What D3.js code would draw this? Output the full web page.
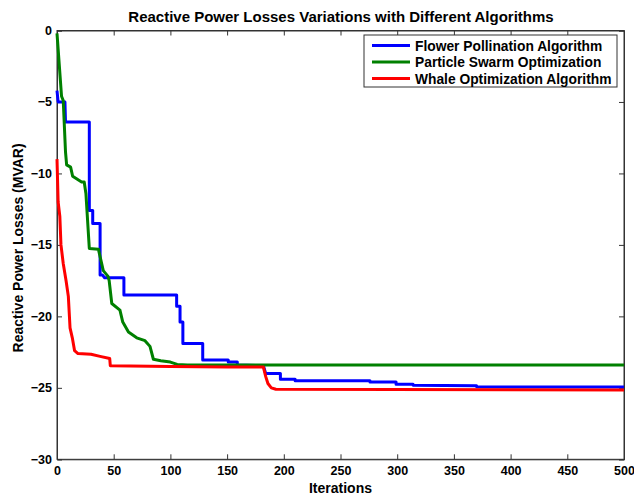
<!DOCTYPE html>
<html><head><meta charset="utf-8">
<script src="https://cdn.jsdelivr.net/npm/d3@7"></script>
<style>body{margin:0;background:#fff}text{font-family:Arial,"Liberation Sans",sans-serif;font-weight:bold}</style>
</head><body><svg id="c" width="634" height="495"></svg>
<script>
const title = "Reactive Power Losses Variations with Different Algorithms";
const xLabel = "Iterations";
const yLabel = "Reactive Power Losses (MVAR)";
const seriesNames = ["Flower Pollination Algorithm","Particle Swarm Optimization","Whale Optimization Algorithm"];
const seriesColors = ["#0000ff","#008000","#ff0000"];
const xTicks = [0,50,100,150,200,250,300,350,400,450,500];
const yTicks = [0,-5,-10,-15,-20,-25,-30];

const fpaIter = [0,1,7,7.5,28.5,28.5,31.5,31.5,38,38,40,42,59,59,105.5,105.5,108.5,108.5,111,111,128.5,128.5,151,151,159,159,182,184,197,197,210,210,276,276,299,299,314,314,370,370,500];
const fpaVal  = [-4.2,-5.0,-5.0,-6.4,-6.4,-12.6,-12.6,-13.5,-13.5,-17.1,-17.1,-17.3,-17.3,-18.5,-18.5,-19.3,-19.3,-20.4,-20.4,-21.9,-21.9,-23.06,-23.06,-23.2,-23.2,-23.4,-23.45,-24.0,-24.0,-24.4,-24.4,-24.5,-24.5,-24.6,-24.6,-24.75,-24.75,-24.82,-24.85,-24.93,-24.95];

const psoIter = [0,4,5.5,7.5,8.5,12,13.8,21.7,24,25.5,28.5,36.5,40.8,45,46,48.3,55.5,58,63,70.3,77.6,82,85,91.5,100,106,115,500];
const psoVal  = [-0.2,-4.6,-4.9,-8.5,-9.4,-9.56,-10.2,-10.6,-10.6,-11.4,-15.25,-15.3,-16.8,-17.2,-17.5,-19.1,-19.56,-20.4,-21.1,-21.5,-21.7,-22.1,-23.0,-23.1,-23.2,-23.36,-23.4,-23.4];

const woaIter = [0,1,2.5,3.5,5.5,8,10,11.5,13.5,15.5,18.5,30,38,46.5,47,100,150,182,184,186,189,193,500];
const woaVal  = [-9.0,-12.0,-13.0,-15.0,-16.3,-17.5,-18.6,-20.8,-21.5,-22.4,-22.6,-22.65,-22.8,-22.95,-23.45,-23.5,-23.55,-23.55,-24.2,-24.7,-25.0,-25.1,-25.15];

const series = [
  {name:seriesNames[0], color:seriesColors[0], pts:fpaIter.map((d,i)=>[d,fpaVal[i]])},
  {name:seriesNames[1], color:seriesColors[1], pts:psoIter.map((d,i)=>[d,psoVal[i]])},
  {name:seriesNames[2], color:seriesColors[2], pts:woaIter.map((d,i)=>[d,woaVal[i]])}
];
const svg = d3.select("#c");
const L=57,R=624,T=30.5,B=459.3;
const x = d3.scaleLinear().domain([0,500]).range([L,R]);
const y = d3.scaleLinear().domain([-30,0]).range([B,T]);
const axCol="#333";

svg.append("rect").attr("x",L).attr("y",T).attr("width",R-L).attr("height",B-T).attr("fill","#fff").attr("stroke",axCol).attr("stroke-width",1);

const gx = svg.append("g").attr("transform",`translate(0,${B})`)
  .call(d3.axisBottom(x).tickValues(xTicks).tickSize(-5).tickPadding(7).tickFormat(d3.format("d")));
const gy = svg.append("g").attr("transform",`translate(${L},0)`)
  .call(d3.axisLeft(y).tickValues(yTicks).tickSize(-5).tickPadding(5).tickFormat(d3.format("d")));
const gxt = svg.append("g").attr("transform",`translate(0,${T})`)
  .call(d3.axisTop(x).tickValues(xTicks).tickSize(-5).tickFormat(""));
const gyr = svg.append("g").attr("transform",`translate(${R},0)`)
  .call(d3.axisRight(y).tickValues(yTicks).tickSize(-5).tickFormat(""));
[gx,gy,gxt,gyr].forEach(g=>{g.select(".domain").attr("stroke",axCol);g.selectAll("line").attr("stroke",axCol);
  g.selectAll("text").attr("fill","#000").style("font-size","12.5px").style("font-weight","bold").style("font-family","Arial, 'Liberation Sans', sans-serif");});

const line = d3.line().x(d=>x(d[0])).y(d=>y(d[1]));
svg.append("g").selectAll("path").data(series).join("path")
  .attr("d",d=>line(d.pts)).attr("fill","none").attr("stroke",d=>d.color)
  .attr("stroke-width",3).attr("stroke-linejoin","round");

svg.append("text").attr("x",341).attr("y",22).attr("text-anchor","middle").style("font-size","15px").text(title);
svg.append("text").attr("x",(L+R)/2).attr("y",493).attr("text-anchor","middle").style("font-size","14px").text(xLabel);
svg.append("text").attr("transform",`translate(23,${(T+B)/2+3}) rotate(-90)`).attr("text-anchor","middle").style("font-size","14px").text(yLabel);

const lg = svg.append("g");
lg.append("rect").attr("x",364).attr("y",35).attr("width",253).attr("height",52).attr("fill","#fff").attr("stroke",axCol);
series.forEach((s,i)=>{
  const yy = 45.5 + i*16.5;
  lg.append("line").attr("x1",372).attr("x2",410).attr("y1",yy).attr("y2",yy).attr("stroke",s.color).attr("stroke-width",3);
  lg.append("text").attr("x",415).attr("y",yy+5).style("font-size","13.8px").text(s.name);
});
</script></body></html>
